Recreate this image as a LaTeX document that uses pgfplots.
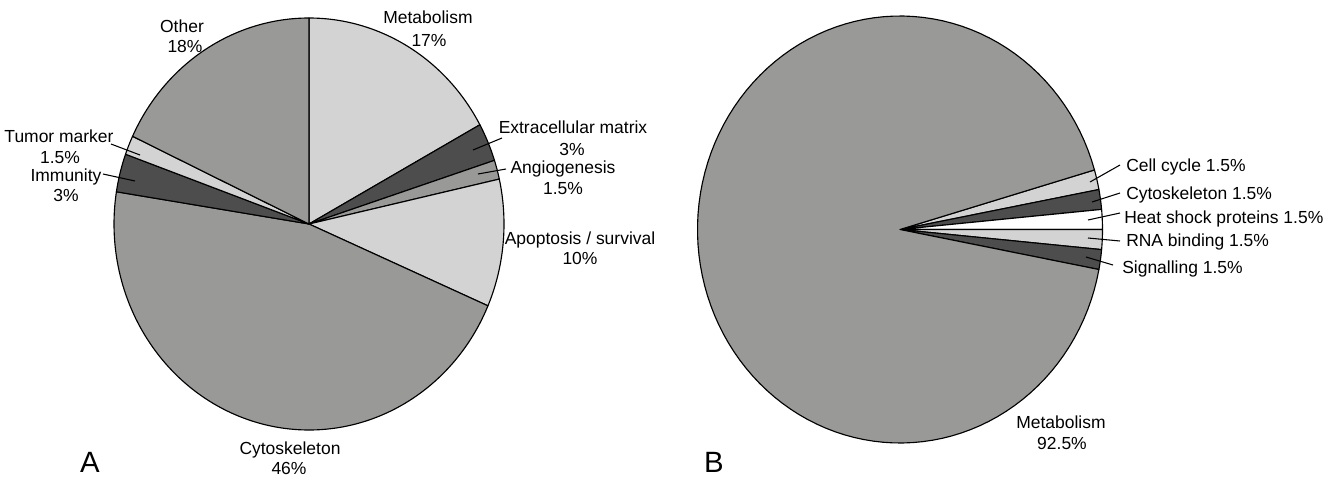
\documentclass[border=0pt]{standalone}
\usepackage{pgfplots}
\pgfplotsset{compat=1.18}
\usepackage{fontspec}
\setmainfont{Liberation Sans}
\definecolor{lg}{HTML}{D3D3D3}
\definecolor{mg}{HTML}{999A98}
\definecolor{dg}{HTML}{4D4D4D}
% \pieslice{cx}{cy}{rx}{ry}{start angle}{start pct}{pct}{colour}
\newcommand{\pieslice}[8]{%
  \addplot[draw=black, line width=0.85pt, line join=round, fill=#8,
    domain={#5-3.6*(#6+#7)}:{#5-3.6*(#6)}, samples=120, variable=\t, forget plot]
  ({#1+#3*cos(\t)},{#2-#4*sin(\t)}) -- (axis cs:#1,#2) -- cycle;}
\newcommand{\lead}[4]{%
  \addplot[black, line width=0.8pt, forget plot] coordinates {(#1,#2) (#3,#4)};}
\begin{document}
\fontsize{13.1}{15}\selectfont
\begin{tikzpicture}
\begin{axis}[
  scale only axis, width=1002pt, height=358.5pt,
  xmin=0, xmax=1336, ymin=0, ymax=478, y dir=reverse,
  hide axis, clip=false]
\addplot[draw=none, forget plot] coordinates {(0,0) (1336,478)};
% ---- Pie A: centre (309,224), radii 195 x 206, starts at 12 o'clock, clockwise
\pieslice{309}{224}{195}{206}{90}{0}{17}{lg}     % Metabolism
\pieslice{309}{224}{195}{206}{90}{17}{3}{dg}     % Extracellular matrix
\pieslice{309}{224}{195}{206}{90}{20}{1.5}{mg}   % Angiogenesis
\pieslice{309}{224}{195}{206}{90}{21.5}{10}{lg}  % Apoptosis / survival
\pieslice{309}{224}{195}{206}{90}{31.5}{46}{mg}  % Cytoskeleton
\pieslice{309}{224}{195}{206}{90}{77.5}{3}{dg}   % Immunity
\pieslice{309}{224}{195}{206}{90}{80.5}{1.5}{lg} % Tumor marker
\pieslice{309}{224}{195}{206}{90}{82}{18}{mg}    % Other
% ---- Pie B: centre (900,229.5), radii 202.5 x 213.5
\pieslice{900}{229.5}{202.5}{213.5}{16.2}{0}{1.5}{lg}    % Cell cycle
\pieslice{900}{229.5}{202.5}{213.5}{16.2}{1.5}{1.5}{dg}  % Cytoskeleton
\pieslice{900}{229.5}{202.5}{213.5}{16.2}{3}{1.5}{white} % Heat shock proteins
\pieslice{900}{229.5}{202.5}{213.5}{16.2}{4.5}{1.5}{lg}  % RNA binding
\pieslice{900}{229.5}{202.5}{213.5}{16.2}{6}{1.5}{dg}    % Signalling
\pieslice{900}{229.5}{202.5}{213.5}{16.2}{7.5}{92.5}{mg} % Metabolism
% ---- leader lines
\lead{502}{138}{473}{150}
\lead{506}{169}{478}{174}
\lead{111}{144}{140}{155}
\lead{103}{174}{135}{181}
\lead{1120}{165}{1090}{182}
\lead{1120}{193}{1092}{202}
\lead{1120}{213}{1088}{220}
\lead{1120}{241}{1088}{238}
\lead{1113}{265}{1086}{257}
% ---- labels pie A
\node[anchor=base, inner sep=0] at (axis cs:428,24) {Metabolism};
\node[anchor=base, inner sep=0] at (axis cs:429,46) {17\%};
\node[anchor=base, inner sep=0] at (axis cs:182,32) {Other};
\node[anchor=base, inner sep=0] at (axis cs:185,52) {18\%};
\node[anchor=base, inner sep=0] at (axis cs:573,133) {Extracellular matrix};
\node[anchor=base, inner sep=0] at (axis cs:572,155) {3\%};
\node[anchor=base, inner sep=0] at (axis cs:563,173) {Angiogenesis};
\node[anchor=base, inner sep=0] at (axis cs:563,194) {1.5\%};
\node[anchor=base, inner sep=0] at (axis cs:580,244) {Apoptosis / survival};
\node[anchor=base, inner sep=0] at (axis cs:580,264) {10\%};
\node[anchor=base, inner sep=0] at (axis cs:290,454) {Cytoskeleton};
\node[anchor=base, inner sep=0] at (axis cs:289,474) {46\%};
\node[anchor=base, inner sep=0] at (axis cs:59,142) {Tumor marker};
\node[anchor=base, inner sep=0] at (axis cs:60,163) {1.5\%};
\node[anchor=base, inner sep=0] at (axis cs:66,181) {Immunity};
\node[anchor=base, inner sep=0] at (axis cs:66,201) {3\%};
\node[anchor=base, inner sep=0, font=\fontsize{22}{24}\selectfont] at (axis cs:90,472) {A};
% ---- labels pie B
\node[anchor=base west, inner sep=0] at (axis cs:1126,171) {Cell cycle 1.5\%};
\node[anchor=base west, inner sep=0] at (axis cs:1126,199) {Cytoskeleton 1.5\%};
\node[anchor=base west, inner sep=0] at (axis cs:1124,223) {Heat shock proteins 1.5\%};
\node[anchor=base west, inner sep=0] at (axis cs:1126,246) {RNA binding 1.5\%};
\node[anchor=base west, inner sep=0] at (axis cs:1122,273) {Signalling 1.5\%};
\node[anchor=base, inner sep=0] at (axis cs:1061,428) {Metabolism};
\node[anchor=base, inner sep=0] at (axis cs:1062,449) {92.5\%};
\node[anchor=base, inner sep=0, font=\fontsize{22}{24}\selectfont] at (axis cs:714,472) {B};
\end{axis}
\end{tikzpicture}
\end{document}
